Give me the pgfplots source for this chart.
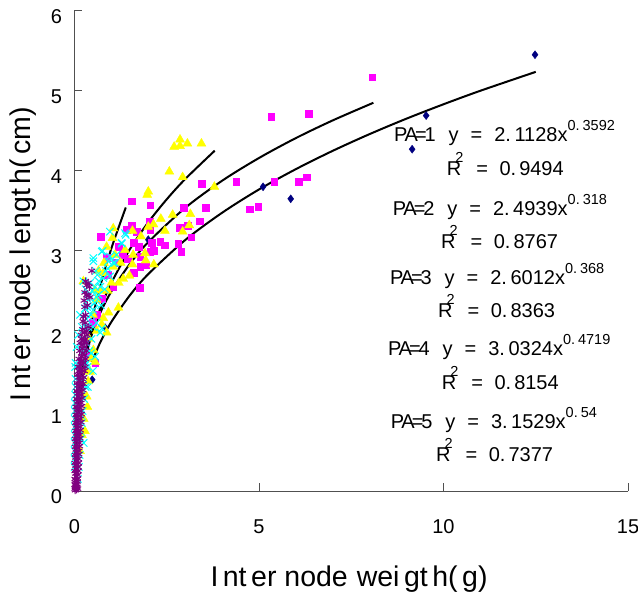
\documentclass[border=0pt]{standalone}
\usepackage{fontspec}
\setmainfont{Liberation Sans}
\usepackage{pgfplots}
\pgfplotsset{compat=1.18}
\definecolor{axgray}{HTML}{505050}
\definecolor{pa1}{HTML}{000080}
\definecolor{pa2}{HTML}{FF00FF}
\definecolor{pa3}{HTML}{FFFF00}
\definecolor{pa4}{HTML}{00FFFF}
\definecolor{pa5}{HTML}{800080}
\newcommand{\tf}{\fontsize{20bp}{24bp}\selectfont}
\newcommand{\sfn}{\fontsize{14.5bp}{16bp}\selectfont}
\newcommand{\PAlab}[1]{P\kern-2.8bp A\kern-3bp =\kern-2.2bp #1}
\newcommand{\eqline}[5]{% x, y px, n, coef, exp
  \node[anchor=base west,inner sep=0,font=\tf] at (#1bp-74.5bp,491bp-#2bp) {\PAlab{#3}\kern13bp y\kern12bp =\kern12bp #4x\raisebox{11bp}{\sfn #5}};}
\newcommand{\rline}[4]{% x, y px, value, unused
  \node[anchor=base west,inner sep=0,font=\tf] at (#1bp-74.5bp,491bp-#2bp) {R\kern-6bp\raisebox{13bp}{\sfn 2}\kern13bp =\kern11.5bp #3};}
\begin{document}
\begin{tikzpicture}[x=1bp,y=1bp]
\path[use as bounding box] (-74.5bp,-101bp) rectangle (563.5bp,491bp);
\begin{axis}[
  at={(0,0)},anchor=origin,
  scale only axis,width=553.5bp,height=480.3bp,
  xmin=0,xmax=15,ymin=0,ymax=6,
  axis lines=left,axis line style={axgray,-,line width=0.9bp},
  xtick={0,5,10,15},ytick={0,1,2,3,4,5,6},
  tick align=inside,tick style={axgray,line width=0.8bp},
  major tick length=8bp,
  clip=false,
  /pgf/number format/assume math mode=true,
  tick label style={font=\tf,black},
  xticklabel style={yshift=-25bp},
  yticklabel style={xshift=-9bp,yshift=-6bp},
  xlabel={I\kern4.5bp nt\kern4.5bp er node\kern9bp wei\kern4.5bp gt\kern4.5bp h(\kern4.5bp g)},
  ylabel={I\kern4.5bp nt\kern4.5bp er node\kern9bp l\kern4.5bp engt\kern4.5bp h(\kern4.5bp cm)},
  label style={font=\fontsize{28.5bp}{32bp}\selectfont},
  xlabel style={at={(axis description cs:0.496,-0.198)},anchor=base},
  ylabel style={at={(axis description cs:-0.0800,0.493)},anchor=base,rotate=0},
]
% PA=1
\addplot[only marks,mark=diamond*,mark size=4pt,color=pa1] coordinates {
(12.48,5.45)(9.53,4.69)(9.15,4.27)(5.86,3.65)(5.11,3.80)(0.83,2.04)(0.48,1.39)(2.0,3.14)
};
% PA=2
\addplot[only marks,mark=square*,mark size=3.4pt,color=pa2] coordinates {
(8.07,5.17)(5.33,4.68)(6.35,4.71)(4.38,3.86)(5.41,3.86)(6.08,3.86)(6.29,3.92)(4.74,3.52)(4.98,3.55)
(3.55,3.54)(3.45,3.84)(3.4,3.37)(1.55,3.62)(2.05,3.57)(2.96,3.54)(2.86,3.29)(3.06,3.31)(3.16,3.17)
(2.81,3.09)(2.89,2.99)(2.45,3.07)(2.32,3.11)(2.14,3.0)(2.10,3.10)(1.94,2.82)(1.78,2.80)(1.61,2.73)
(1.76,2.54)(0.72,3.18)(1.55,3.31)(1.41,3.26)(1.69,3.24)(2.03,3.37)(2.05,3.26)(1.73,3.05)(1.78,2.93)
(2.05,2.99)(0.87,2.91)(1.05,2.55)(0.56,1.60)(0.9,2.7)(1.1,2.85)(1.3,2.95)(0.6,2.2)(0.75,2.4)
(1.2,3.05)(1.45,2.9)(1.6,3.1)(0.5,2.1)(0.35,1.7)
};
% PA=3
\addplot[only marks,mark=triangle*,mark size=5.2pt,color=pa3] coordinates {
(2.86,4.39)(2.70,4.30)(2.86,4.31)(3.06,4.34)(3.44,4.34)(2.57,3.99)(2.93,3.92)(3.79,3.80)(2.0,3.74)(1.97,3.70)
(2.66,3.45)(3.14,3.46)(2.34,3.40)(2.14,3.33)(2.0,3.30)(2.45,3.25)(3.11,3.32)(2.93,3.24)(1.05,3.28)(1.03,3.16)
(0.87,3.05)(1.57,3.25)(1.80,3.18)(1.91,2.97)(1.93,2.88)(2.15,2.83)(1.57,2.83)(1.49,2.69)(1.32,2.65)(1.59,2.95)
(1.37,3.01)(1.05,2.80)(0.78,2.72)(0.24,2.62)(1.19,2.29)(0.92,2.23)(0.78,2.16)(0.87,1.98)(0.74,2.08)(0.56,1.61)
(0.42,1.49)(0.37,1.37)(0.33,1.18)(0.51,1.76)(0.60,2.39)(0.55,2.51)(1.2,2.6)(0.7,2.5)(0.9,2.5)(0.4,1.9)
(0.3,1.5)(0.2,1.2)(0.25,0.9)(0.2,0.7)(0.15,0.5)(1.1,2.95)(1.25,2.85)(0.65,2.75)(0.8,2.85)(1.0,2.6)(0.6,2.0)
(0.5,2.2)(0.45,1.65)(0.35,1.05)(0.28,0.75)
};
% PA=4
\addplot[only marks,mark=x,mark size=5.2pt,line width=1bp,color=pa4] coordinates {
(0.51,2.91)(0.76,3.0)(1.37,3.22)(1.28,3.09)(1.05,2.85)(0.96,3.24)(1.39,3.2)(1.28,3.10)(0.74,2.99)(0.51,2.87)
(0.24,2.62)(0.96,2.68)(0.78,2.66)(1.10,2.85)(0.92,2.87)(1.14,2.95)(0.96,2.93)(0.56,2.55)(0.37,2.39)(0.28,2.28)
(0.51,2.26)(0.65,2.45)(0.74,2.03)(0.70,1.98)(0.56,1.68)(0.46,1.9)(0.30,2.52)(0.42,2.6)(0.62,2.7)(0.85,2.75)
(0.7,2.55)(0.55,2.35)(0.45,2.2)(0.6,2.1)(0.38,2.05)(0.32,2.15)(0.4,1.75)(0.5,1.5)(0.35,1.55)(0.28,1.65)
(0.25,1.9)(0.2,2.05)(0.3,1.3)(0.26,1.15)(0.22,1.0)(0.2,0.85)(0.18,0.65)(0.14,0.45)(0.12,0.3)(0.09,0.15)
(0.03,1.4)(0.02,1.2)(0.01,1.0)(0.01,0.8)(0.005,0.6)(0.005,0.4)(0.03,1.6)(0.06,1.8)(0.1,1.95)(0.15,2.2)
(0.4,2.45)(0.48,2.5)(0.58,2.75)(0.66,2.62)(0.82,2.52)(0.9,2.78)(0.34,2.3)(0.42,2.3)(0.6,2.42)(0.72,2.32)
(0.3,2.05)(0.38,2.18)(0.5,2.05)(0.32,1.85)(0.45,1.72)(0.36,1.3)(0.33,1.6)(0.24,1.4)(0.22,1.75)(0.25,0.6)
(0.02,1.55)(0.03,1.3)(0.01,1.1)(0.006,0.9)(0.005,0.7)(0.005,0.5)(0.004,0.3)(0.2,1.2)(0.17,0.95)(0.15,0.75)
};
% PA=5
\addplot[only marks,mark=asterisk,mark size=3.9pt,line width=1bp,color=pa5] coordinates {
(0.47,2.75)(0.37,2.6)(0.33,2.57)(0.40,2.55)(0.30,2.62)(0.33,2.45)(0.37,2.44)(0.42,2.42)(0.28,2.48)
(0.24,2.18)(0.30,2.2)(0.28,2.3)(0.35,2.32)(0.26,2.38)
(0.37,2.05)(0.32,2.0)(0.27,1.98)(0.22,2.02)(0.18,1.95)(0.30,1.9)(0.24,1.88)(0.15,1.85)(0.28,1.8)
(0.34,1.95)(0.29,2.1)(0.23,2.12)(0.33,1.85)(0.19,1.9)(0.32,1.75)(0.2,1.82)(0.26,1.85)
(0.21,1.78)(0.14,1.75)(0.26,1.7)(0.19,1.68)(0.12,1.65)(0.25,1.6)(0.18,1.58)(0.10,1.55)(0.22,1.5)(0.15,1.48)
(0.30,1.65)(0.29,1.55)(0.23,1.72)(0.16,1.62)(0.13,1.55)(0.21,1.62)(0.27,1.5)(0.18,1.52)(0.12,1.5)
(0.08,1.45)(0.21,1.4)(0.14,1.38)(0.07,1.35)(0.20,1.3)(0.12,1.28)(0.06,1.25)(0.19,1.2)(0.11,1.18)(0.05,1.15)
(0.25,1.42)(0.17,1.44)(0.11,1.42)(0.24,1.34)(0.16,1.34)(0.09,1.32)(0.23,1.26)(0.15,1.24)(0.08,1.22)(0.21,1.16)(0.14,1.14)(0.08,1.12)
(0.18,1.1)(0.10,1.08)(0.04,1.05)(0.17,1.0)(0.09,0.98)(0.04,0.95)(0.16,0.9)(0.09,0.88)(0.03,0.85)(0.15,0.8)
(0.20,1.06)(0.13,1.04)(0.07,1.02)(0.19,0.96)(0.12,0.94)(0.06,0.92)(0.18,0.86)(0.12,0.84)(0.05,0.82)
(0.08,0.78)(0.03,0.75)(0.14,0.7)(0.07,0.68)(0.02,0.65)(0.13,0.6)(0.07,0.58)(0.02,0.55)(0.12,0.5)(0.06,0.48)
(0.16,0.76)(0.11,0.74)(0.05,0.72)(0.15,0.66)(0.10,0.64)(0.04,0.62)(0.14,0.56)(0.09,0.54)(0.04,0.52)
(0.02,0.45)(0.11,0.4)(0.06,0.38)(0.01,0.35)(0.10,0.3)(0.05,0.28)(0.01,0.25)(0.09,0.2)(0.05,0.18)(0.01,0.15)
(0.12,0.46)(0.08,0.44)(0.03,0.42)(0.11,0.35)(0.07,0.33)(0.03,0.32)(0.10,0.25)(0.06,0.23)(0.03,0.22)(0.08,0.15)(0.03,0.13)
(0.08,0.12)(0.04,0.1)(0.01,0.08)(0.07,0.05)(0.03,0.04)(0.01,0.03)(0.05,0.02)(0.02,0.01)(0.06,0.08)(0.03,0.07)(0.09,0.03)
};
% trend lines
\addplot[smooth,black,line width=2bp,no marks] coordinates {
(0.47,1.611)(0.7,1.859)(1,2.113)(1.5,2.444)(2,2.710)(3,3.135)(4,3.476)(5,3.767)(6,4.021)(7,4.250)(8,4.459)(9,4.652)(10,4.831)(11,5.000)(12.5,5.236)
};
\addplot[smooth,black,line width=2bp,no marks] coordinates {
(0.1,1.199)(0.2,1.495)(0.3,1.701)(0.5,2.001)(0.7,2.227)(1,2.494)(1.5,2.837)(2,3.109)(3,3.537)(4,3.876)(5,4.160)(6,4.409)(7,4.630)(8.1,4.850)
};
\addplot[smooth,black,line width=2bp,no marks] coordinates {
(0.05,0.864)(0.1,1.115)(0.2,1.439)(0.3,1.670)(0.5,2.015)(0.7,2.281)(1,2.601)(1.5,3.020)(2,3.357)(2.5,3.644)(3,3.897)(3.8,4.251)
};
\addplot[smooth,black,line width=2bp,no marks] coordinates {
(0.03,0.579)(0.05,0.737)(0.1,1.023)(0.2,1.419)(0.3,1.718)(0.5,2.186)(0.7,2.563)(1,3.032)(1.39,3.542)
};
\addplot[smooth,black,line width=2bp,no marks] coordinates {
(0.01,0.262)(0.02,0.381)(0.05,0.625)(0.1,0.909)(0.2,1.322)(0.3,1.646)(0.45,2.049)
};
\end{axis}
\eqline{394}{141.7}{1}{2.\kern3.5bp 1128}{0.\kern3bp 3592}
\rline{446.7}{175.7}{0.\kern3bp 9494}{}
\eqline{392.7}{216}{2}{2.\kern3.5bp 4939}{0.\kern3bp 318}
\rline{441}{249}{0.\kern3bp 8767}{}
\eqline{390}{285}{3}{2.\kern3.5bp 6012}{0.\kern3bp 368}
\rline{438}{318}{0.\kern3bp 8363}{}
\eqline{388}{356}{4}{3.\kern3.5bp 0324}{0.\kern3bp 4719}
\rline{441.7}{390}{0.\kern3bp 8154}{}
\eqline{390.7}{429}{5}{3.\kern3.5bp 1529}{0.\kern3bp 54}
\rline{436}{461.7}{0.\kern3bp 7377}{}
\end{tikzpicture}
\end{document}
